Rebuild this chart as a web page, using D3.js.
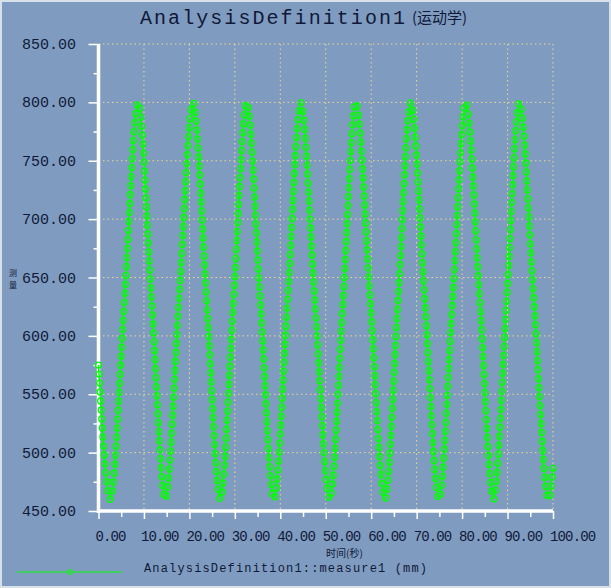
<!DOCTYPE html>
<html><head><meta charset="utf-8">
<script src="https://cdn.jsdelivr.net/npm/d3@7"></script>
<style>body{margin:0;background:#7f9cc0}</style></head>
<body><svg id="c" width="611" height="588"></svg>
<script>
const xTicks=[0,10,20,30,40,50,60,70,80,90,100];
const yTicks=[450,500,550,600,650,700,750,800,850];
const times=[0,2.6,5.7,8.7,11.7,14.7,17.7,20.8,23.8,26.8,29.7,32.6,35.6,38.6,41.6,44.5,47.6,50.9,53.8,56.6,59.8,63.0,65.9,68.7,71.8,74.9,77.9,80.8,83.9,86.9,89.8,92.6,95.8,99.0,100];
const values=[575,460,630,800,630,460,630,800,630,460,630,800,630,460,630,800,630,460,630,800,630,460,630,800,630,460,630,800,630,460,630,800,630,460,487];
const svg=d3.select("#c");
const W=611,H=588;
svg.append("rect").attr("x",0.5).attr("y",0.5).attr("width",W-1).attr("height",H-1).attr("fill","#7f9cc0").attr("stroke","#d8e0ea").attr("stroke-width",3);
const x=d3.scaleLinear().domain([0,100]).range([98.5,553]);
const y=d3.scaleLinear().domain([450,850]).range([511,44]);
const ink="#101838";
svg.append("g").selectAll("line").data(xTicks.slice(1)).join("line")
 .attr("x1",d=>x(d)).attr("x2",d=>x(d)).attr("y1",y(850)).attr("y2",y(450))
 .attr("stroke","#f0d890").attr("stroke-dasharray","1.5,3").attr("stroke-width",1);
svg.append("g").selectAll("line").data(yTicks.slice(1)).join("line")
 .attr("x1",x(0)).attr("x2",x(100)).attr("y1",d=>y(d)).attr("y2",d=>y(d))
 .attr("stroke","#f0d890").attr("stroke-dasharray","1.5,3").attr("stroke-width",1);
const yAx=d3.axisLeft(y).tickValues(d3.range(450,851,25)).tickSize(0).tickFormat("");
const ga=svg.append("g").attr("transform",`translate(${x(0)},0)`).call(yAx);
ga.select(".domain").remove();
ga.selectAll(".tick").append("line").attr("x2",d=>d%50===0?-10:-5).attr("stroke","#fff").attr("stroke-width",1.5);
svg.append("g").selectAll("text").data(yTicks).join("text").attr("x",76).attr("y",d=>y(d)+5)
 .attr("text-anchor","end").attr("font-family","Liberation Mono").attr("font-size",15).attr("fill",ink).text(d=>d.toFixed(2));
const xAx=d3.axisBottom(x).tickValues(d3.range(0,101,5)).tickSize(0).tickFormat("");
const gb=svg.append("g").attr("transform",`translate(0,${y(450)})`).call(xAx);
gb.select(".domain").remove();
gb.selectAll(".tick").append("line").attr("y2",d=>d%10===0?8:6).attr("stroke","#fff").attr("stroke-width",1.5);
svg.append("g").selectAll("text").data(xTicks).join("text").attr("x",d=>x(d)-3).attr("y",541)
 .attr("font-family","Liberation Mono").attr("font-size",14).attr("fill",ink)
 .attr("textLength",d=>d.toFixed(2).length*7.7).text(d=>d.toFixed(2));
svg.append("line").attr("x1",x(0)).attr("x2",x(0)).attr("y1",y(850)).attr("y2",y(450)+2).attr("stroke","#fff").attr("stroke-width",3.5);
svg.append("line").attr("x1",x(0)).attr("x2",x(100)).attr("y1",y(450)).attr("y2",y(450)).attr("stroke","#fff").attr("stroke-width",3.5);
svg.append("text").attr("x",140).attr("y",24).attr("font-family","Liberation Mono").attr("font-size",20).attr("fill",ink).attr("textLength",265).text("AnalysisDefinition1");
svg.append("text").attr("x",412).attr("y",23).attr("font-family","Noto Sans CJK SC").attr("font-size",15).attr("fill",ink).text("(运动学)");
svg.append("text").attr("x",326).attr("y",557).attr("font-family","Noto Sans CJK SC").attr("font-size",10).attr("fill",ink).text("时间(秒)");
svg.append("text").attr("x",144).attr("y",572).attr("font-family","Liberation Mono").attr("font-size",12).attr("fill",ink).attr("textLength",283).text("AnalysisDefinition1::measure1 (mm)");
svg.append("text").attr("x",9).attr("y",276).attr("font-family","Noto Sans CJK SC").attr("font-size",8).attr("fill",ink).text("测");
svg.append("text").attr("x",9).attr("y",288).attr("font-family","Noto Sans CJK SC").attr("font-size",8).attr("fill",ink).text("量");
svg.append("line").attr("x1",17).attr("x2",122).attr("y1",572).attr("y2",572).attr("stroke","#00ff00").attr("stroke-width",1);
svg.append("circle").attr("cx",70).attr("cy",572).attr("r",2.5).attr("fill","none").attr("stroke","#00ff00");
const pts=times.map((t,i)=>[t,values[i]]);
const line=d3.line().x(d=>x(d[0])).y(d=>y(d[1])).curve(d3.curveMonotoneX);
const path=svg.append("path").datum(pts).attr("d",line).attr("fill","none").attr("stroke","#00ff00").attr("stroke-width",1.5);
const L=path.node().getTotalLength();
const mk=[];for(let s=0;s<=L;s+=9)mk.push(path.node().getPointAtLength(s));
svg.append("g").selectAll("circle").data(mk).join("circle").attr("cx",d=>d.x).attr("cy",d=>d.y).attr("r",3)
 .attr("fill","none").attr("stroke","#00ff00").attr("stroke-width",1.3);
</script></body></html>
